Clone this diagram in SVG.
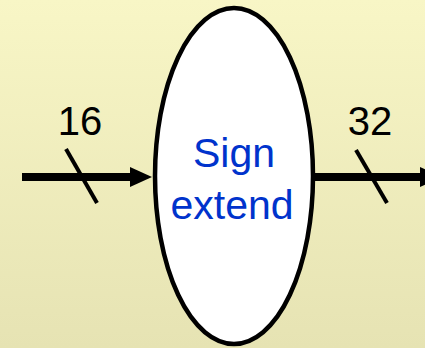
<svg xmlns="http://www.w3.org/2000/svg" width="425" height="348" viewBox="0 0 425 348">
  <defs>
    <linearGradient id="bg" x1="0" y1="0" x2="0" y2="1">
      <stop offset="0" stop-color="#f8f6c6"/>
      <stop offset="1" stop-color="#e6e3b3"/>
    </linearGradient>
    <style>
      .wire { stroke: #000; stroke-width: 8; fill: none; }
      .slash { stroke: #000; stroke-width: 4; }
      .width { font-family: "Liberation Sans", Arial, sans-serif; font-size: 40px; fill: #000; text-anchor: middle; }
      .label { font-family: "Liberation Sans", Arial, sans-serif; font-size: 41px; fill: #0033cc; text-anchor: middle; }
    </style>
  </defs>
  <rect width="425" height="348" fill="url(#bg)"/>

  <g id="sign-extend">
    <ellipse cx="234" cy="176" rx="79" ry="168" fill="#fff" stroke="#000" stroke-width="4.5"/>
    <text class="label" x="234" y="167">Sign</text>
    <text class="label" x="232" y="219">extend</text>
  </g>

  <g id="connectors">
    <line class="wire" x1="22" y1="177" x2="132" y2="177"/>
    <path d="M130,167 L152,177 L130,187 Z" fill="#000"/>
    <line class="slash" x1="66" y1="149" x2="97" y2="203"/>
    <text class="width" x="80" y="135">16</text>

    <line class="wire" x1="315" y1="177" x2="422" y2="177"/>
    <path d="M420,167 L442,177 L420,187 Z" fill="#000"/>
    <line class="slash" x1="356" y1="150" x2="387" y2="203"/>
    <text class="width" x="370" y="135">32</text>
  </g>
</svg>
